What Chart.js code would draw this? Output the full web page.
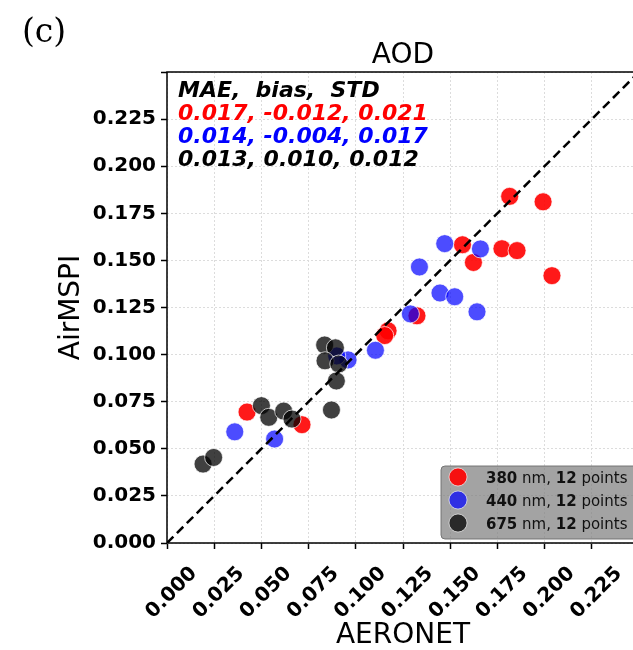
<!DOCTYPE html>
<html>
<head>
<meta charset="utf-8">
<script src="https://cdn.jsdelivr.net/npm/chart.js@4"></script>
<style>
    html, body { margin: 0; padding: 0; background: #fff; overflow: hidden; width: 633px; height: 650px; }
    #wrap { position: absolute; left: 0; top: 0; width: 660px; height: 650px; }
</style>
</head>
<body>
<div id="wrap"><canvas id="chart-aod" width="660" height="650"></canvas></div>
<script>
// AERONET (x) vs AirMSPI (y), one pair of arrays per wavelength
const aeronet380 = [0.1815, 0.1992, 0.1565, 0.1774, 0.1854, 0.1623, 0.2039, 0.1324, 0.1171, 0.1153, 0.0424, 0.0715];
const airmspi380 = [0.1840, 0.1811, 0.1583, 0.1562, 0.1552, 0.1489, 0.1419, 0.1206, 0.1126, 0.1101, 0.0695, 0.0628];
const aeronet440 = [0.1471, 0.1660, 0.1337, 0.1446, 0.1524, 0.1642, 0.1289, 0.1104, 0.0959, 0.0899, 0.0359, 0.0570];
const airmspi440 = [0.1589, 0.1561, 0.1465, 0.1327, 0.1307, 0.1227, 0.1216, 0.1023, 0.0972, 0.0993, 0.0590, 0.0552];
const aeronet675 = [0.0835, 0.0892, 0.0837, 0.0910, 0.0897, 0.0871, 0.0500, 0.0539, 0.0618, 0.0662, 0.0191, 0.0247];
const airmspi675 = [0.1051, 0.1036, 0.0967, 0.0950, 0.0860, 0.0706, 0.0729, 0.0667, 0.0700, 0.0658, 0.0419, 0.0454];

const wavelengths = ["380", "440", "675"];
const pointCounts = ["12", "12", "12"];
const statsHeader = "MAE,  bias,  STD";
const statsLines = ["0.017, -0.012, 0.021", "0.014, -0.004, 0.017", "0.013, 0.010, 0.012"];
const oneToOne = [0, 0.25];

const colors = ["rgba(255, 0, 0, 0.9)", "rgba(0, 0, 255, 0.7)", "rgba(0, 0, 0, 0.75)"];
const textColors = ["#ff0000", "#0000ff", "#000000"];

function pairs(xs, ys) {
    return xs.map(function (x, i) { return { x: x, y: ys[i] }; });
}

// title, panel letter, axis labels, stats text, legend
const extraText = {
    id: "extraText",
    afterDraw: function (chart) {
        const c = chart.ctx;
        const area = chart.chartArea;
        c.save();
        // all four spines
        c.strokeStyle = "#000";
        c.lineWidth = 1.5;
        c.strokeRect(area.left, area.top, area.right - area.left, area.bottom - area.top);

        c.fillStyle = "#000";
        c.font = "33px 'DejaVu Serif'";
        c.textAlign = "left";
        c.textBaseline = "alphabetic";
        c.fillText("(c)", 22, 42);

        c.font = "28px 'DejaVu Sans'";
        c.textAlign = "center";
        c.fillText("AOD", (area.left + area.right) / 2, 63);
        c.fillText("AERONET", (area.left + area.right) / 2, 643);

        c.save();
        c.translate(79, (area.top + area.bottom) / 2);
        c.rotate(-Math.PI / 2);
        c.fillText("AirMSPI", 0, 0);
        c.restore();

        c.textAlign = "left";
        c.font = "italic bold 22px 'DejaVu Sans'";
        c.fillText(statsHeader, 178, 97);
        statsLines.forEach(function (s, i) {
            c.fillStyle = textColors[i];
            c.fillText(s, 178, 120 + i * 23);
        });

        // legend box
        const lx = 441, ly = 466, lw = 196, lh = 73;
        c.fillStyle = "rgba(128, 128, 128, 0.72)";
        c.strokeStyle = "rgba(110, 110, 110, 0.9)";
        c.lineWidth = 1;
        c.beginPath();
        c.roundRect(lx, ly, lw, lh, 4);
        c.fill();
        c.stroke();
        wavelengths.forEach(function (w, i) {
            const cy = 477 + i * 23;
            c.beginPath();
            c.arc(458, cy, 9, 0, Math.PI * 2);
            c.fillStyle = colors[i];
            c.fill();
            c.strokeStyle = "rgba(255, 255, 255, 0.6)";
            c.stroke();
            const parts = [[w, true], [" nm, ", false], [pointCounts[i], true], [" points", false]];
            let tx = 486;
            c.fillStyle = "#111";
            parts.forEach(function (p) {
                c.font = (p[1] ? "bold " : "") + "15px 'DejaVu Sans'";
                c.fillText(p[0], tx, cy + 5.5);
                tx += c.measureText(p[0]).width;
            });
        });
        c.restore();
    }
};

const tickFont = { size: 20, weight: "bold", family: "'DejaVu Sans'" };
function fmt(v) {
    return v > 0.249 ? "" : Number(v).toFixed(3);
}

var ctx = document.getElementById("chart-aod").getContext("2d");
new Chart(ctx, {
    data: {
        datasets: [{
            type: "line",
            label: "1:1",
            data: pairs(oneToOne, oneToOne),
            borderColor: "#000",
            borderWidth: 2.5,
            borderDash: [9, 5],
            pointRadius: 0,
            fill: false,
            order: 0
        }, {
            type: "scatter",
            label: wavelengths[2] + " nm",
            data: pairs(aeronet675, airmspi675),
            backgroundColor: colors[2],
            borderColor: "rgba(255, 255, 255, 0.7)",
            borderWidth: 1,
            pointRadius: 9,
            order: 1
        }, {
            type: "scatter",
            label: wavelengths[1] + " nm",
            data: pairs(aeronet440, airmspi440),
            backgroundColor: colors[1],
            borderColor: "rgba(255, 255, 255, 0.7)",
            borderWidth: 1,
            pointRadius: 9,
            order: 2
        }, {
            type: "scatter",
            label: wavelengths[0] + " nm",
            data: pairs(aeronet380, airmspi380),
            backgroundColor: colors[0],
            borderColor: "rgba(255, 255, 255, 0.7)",
            borderWidth: 1,
            pointRadius: 9,
            order: 3
        }]
    },
    options: {
        responsive: false,
        animation: false,
        devicePixelRatio: 1,
        layout: { padding: { left: 0, top: 72, right: 21, bottom: 0 } },
        plugins: {
            legend: { display: false },
            tooltip: { enabled: false }
        },
        scales: {
            x: {
                type: "linear",
                min: 0,
                max: 0.25,
                afterFit: function (scale) {
                    scale.height = 107;
                    scale.paddingLeft = 0;
                    scale.paddingRight = 0;
                },
                grid: {
                    color: "#dcdcdc",
                    lineWidth: 1,
                    tickLength: 6,
                    tickColor: "#000",
                    tickWidth: 1.5
                },
                border: { display: false, dash: [2, 2] },
                ticks: {
                    stepSize: 0.025,
                    minRotation: 45,
                    maxRotation: 45,
                    labelOffset: 27,
                    padding: 13,
                    color: "#000",
                    font: tickFont,
                    callback: fmt
                }
            },
            y: {
                type: "linear",
                min: 0,
                max: 0.25,
                afterFit: function (scale) {
                    scale.width = 167;
                    scale.paddingTop = 0;
                    scale.paddingBottom = 0;
                },
                grid: {
                    color: "#dcdcdc",
                    lineWidth: 1,
                    tickLength: 6,
                    tickColor: "#000",
                    tickWidth: 1.5
                },
                border: { display: false, dash: [2, 2] },
                ticks: {
                    stepSize: 0.025,
                    padding: 5,
                    color: "#000",
                    font: tickFont,
                    callback: fmt
                }
            }
        }
    },
    plugins: [extraText]
});
</script>
</body>
</html>
